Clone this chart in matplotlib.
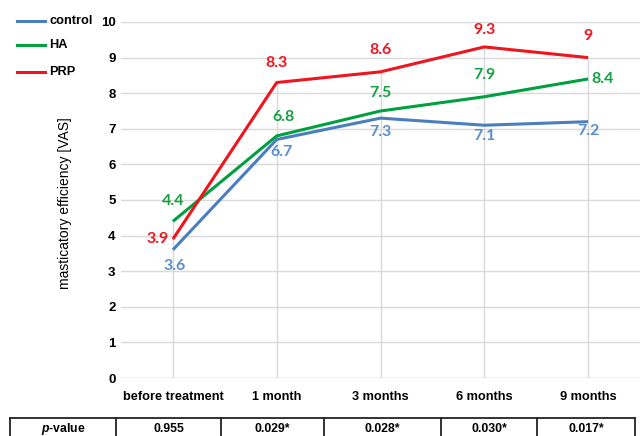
import matplotlib
matplotlib.use("Agg")
import matplotlib.pyplot as plt
from matplotlib.lines import Line2D
import numpy as np

plt.rcParams["mathtext.fontset"] = "custom"
plt.rcParams["mathtext.it"] = "Liberation Sans:bold:italic"
plt.rcParams["mathtext.rm"] = "Liberation Sans:bold"

categories = ["before treatment", "1 month", "3 months", "6 months", "9 months"]
series_names = ["control", "HA", "PRP"]
control = [3.6, 6.7, 7.3, 7.1, 7.2]
ha = [4.4, 6.8, 7.5, 7.9, 8.4]
prp = [3.9, 8.3, 8.6, 9.3, 9.0]
p_values = ["0.955", "0.029*", "0.028*", "0.030*", "0.017*"]
yticks = [0, 1, 2, 3, 4, 5, 6, 7, 8, 9, 10]

line_colors = ["#4A7EBF", "#00A040", "#F0141E"]
label_colors = ["#5A8ED0", "#17A043", "#F0141E"]
# label offsets in pixels (dx, dy)
offsets = [
    [(2, -16), (5, -13), (0, -14), (0, -11), (0, -9)],
    [(0, 20), (7, 19), (0, 18), (0, 22), (14, 0)],
    [(-15, 0), (0, 20), (0, 22), (0, 17), (0, 22)],
]

W, H = 640, 436
fig = plt.figure(figsize=(W / 100, H / 100), dpi=100)
ax = fig.add_axes([121 / W, 1 - 378 / H, 519 / W, 356 / H])

x = np.arange(len(categories))
data = [control, ha, prp]

ax.set_xlim(-0.5, len(categories) - 0.5)
ax.set_ylim(0, 10)
ax.set_yticks(yticks)
ax.set_yticklabels([str(t) for t in yticks], fontfamily="Liberation Sans",
                   fontweight="bold", fontsize=9.5)
ax.set_xticks(x)
ax.set_xticklabels(categories, fontfamily="Liberation Sans",
                   fontweight="bold", fontsize=9.2)
ax.tick_params(axis="y", length=0, pad=4)
ax.tick_params(axis="x", length=0, pad=9)
for s in ax.spines.values():
    s.set_visible(False)
ax.grid(axis="y", color="#D9D9D9", linewidth=1.0)
ax.set_axisbelow(True)
ax.axhline(0, color="#D0D0D0", linewidth=1.0, zorder=1)

# drop lines from highest series to axis
maxv = np.max(np.array(data), axis=0)
ax.vlines(x, 0, maxv, color="#D9D9D9", linewidth=1.0, zorder=1)

for i, (vals, name) in enumerate(zip(data, series_names)):
    ax.plot(x, vals, color=line_colors[i], linewidth=2.2, zorder=3 + i,
            solid_capstyle="butt")
    for j, v in enumerate(vals):
        dx, dy = offsets[i][j]
        lbl = f"{v:g}"
        ax.annotate(lbl, (x[j], v), xytext=(dx, dy), textcoords="offset pixels",
                    ha="center", va="center", color=label_colors[i],
                    fontfamily="Lato", fontweight="bold", fontsize=11.5,
                    zorder=10)

# legend (manual)
leg_y = [21, 45, 72]
for i, name in enumerate(series_names):
    yy = 1 - leg_y[i] / H
    fig.add_artist(Line2D([17 / W, 45 / W], [yy, yy], color=line_colors[i],
                          linewidth=2.2, transform=fig.transFigure))
    fig.text(49 / W, yy, name, ha="left", va="center",
             fontfamily="Liberation Sans", fontweight="bold", fontsize=9.2)

# y label
fig.text(65 / W, 1 - 203 / H, "masticatory efficiency [VAS]", rotation=90,
         ha="center", va="center", fontfamily="Liberation Sans", fontsize=10)

# p-value table
col_edges = [10, 116, 221, 324, 441, 537, 635]
top = 418
bottom = 445
tcells = ["$p$-value"] + p_values
lw = 1.3
fig.add_artist(Line2D([col_edges[0] / W, col_edges[-1] / W],
                      [1 - top / H, 1 - top / H], color="#222222",
                      linewidth=lw, transform=fig.transFigure))
for ce in col_edges:
    fig.add_artist(Line2D([ce / W, ce / W], [1 - top / H, 1 - bottom / H],
                          color="#222222", linewidth=lw,
                          transform=fig.transFigure))
for k, txt in enumerate(tcells):
    cx = (col_edges[k] + col_edges[k + 1]) / 2
    fig.text(cx / W, 1 - 429 / H, txt, ha="center", va="center",
             fontfamily="Liberation Sans", fontweight="bold", fontsize=8.8)

fig.savefig("out.png", dpi=100)
